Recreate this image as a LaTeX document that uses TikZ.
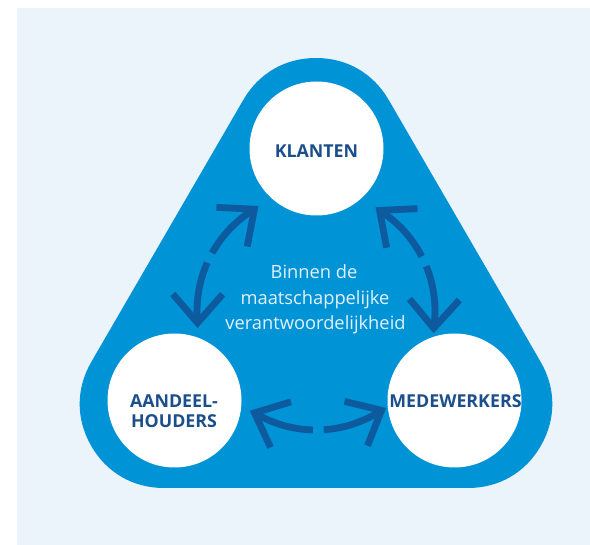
\documentclass[tikz,border=0pt]{standalone}
\usepackage{fontspec}
\setmainfont{Open Sans}
\usetikzlibrary{calc}
\definecolor{bgl}{HTML}{EBF3FB}
\definecolor{tri}{HTML}{0093D5}
\definecolor{arr}{HTML}{0E5A9E}
\definecolor{lab}{HTML}{1B4E8B}
\definecolor{ctext}{HTML}{E3F1FB}
\def\Rarr{119}
\newcommand\cycarrow[2]{%
 \pgfmathsetmacro\alo{#1}\pgfmathsetmacro\ahi{#2}%
 \pgfmathsetmacro\amid{(#1+#2)/2}%
 \pgfmathsetmacro\ga{\amid-2.6}\pgfmathsetmacro\gb{\amid+2.6}%
 \pgfmathsetmacro\hA{\ahi-97-41}\pgfmathsetmacro\hB{\ahi-97+41}%
 \pgfmathsetmacro\lA{\alo+96-41}\pgfmathsetmacro\lB{\alo+96+41}%
 \draw[arcline] ($(ctr)+(\alo:\Rarr)$) arc[start angle=\alo, end angle=\ga, radius=\Rarr];
 \draw[arcline] ($(ctr)+(\gb:\Rarr)$) arc[start angle=\gb, end angle=\ahi, radius=\Rarr];
 \draw[chev] ($(ctr)+(\ahi:\Rarr)+(\hA:38)$) -- ($(ctr)+(\ahi:\Rarr)$) -- ($(ctr)+(\ahi:\Rarr)+(\hB:38)$);
 \draw[chev] ($(ctr)+(\alo:\Rarr)+(\lA:38)$) -- ($(ctr)+(\alo:\Rarr)$) -- ($(ctr)+(\alo:\Rarr)+(\lB:38)$);
}
\begin{document}
\begin{tikzpicture}[x=1pt,y=-1pt,
  disc/.style={circle, fill=white, minimum size=134pt, inner sep=0pt},
  lbl/.style={font=\fontsize{17.8}{20}\selectfont\bfseries, text=lab, align=center, inner sep=0pt},
  ctxt/.style={font=\fontsize{18.3}{20}\selectfont, text=ctext, anchor=base, inner sep=0pt},
  arcline/.style={draw=arr, line width=6.8pt, line cap=butt},
  chev/.style={draw=arr, line width=6.8pt, line cap=butt, line join=miter}]
\useasboundingbox (0,0) rectangle (590,545);
\fill[bgl] (17,8) rectangle (590,545);
% rounded triangle
\coordinate (tk) at (316,142);
\coordinate (ta) at (164,404);
\coordinate (tm) at (468,404);
\filldraw[tri, line width=168pt, line join=round] (tk) -- (ta) -- (tm) -- cycle;
% circles
\node[disc] (klanten) at (316.5,148.5) {};
\node[disc] (aandeel) at (174.5,400.5) {};
\node[disc] (medew) at (454.5,400.5) {};
\node[lbl] at (316.5,151.5) {KLANTEN};
\node[lbl] at (174,411.5) {AANDEEL-\\HOUDERS};
\node[lbl] at (455.5,401.5) {MEDEWERKERS};
% centre text
\coordinate (ctr) at (316,311);
\node[ctxt] (t1) at (314,279) {Binnen de};
\node[ctxt] (t2) at (315,305) {maatschappelijke};
\node[ctxt] (t3) at (315.5,330) {verantwoordelijkheid};
% arrows
\cycarrow{174.3}{238.8}
\cycarrow{302.3}{368.3}
\cycarrow{56.6}{121.1}
\end{tikzpicture}
\end{document}
